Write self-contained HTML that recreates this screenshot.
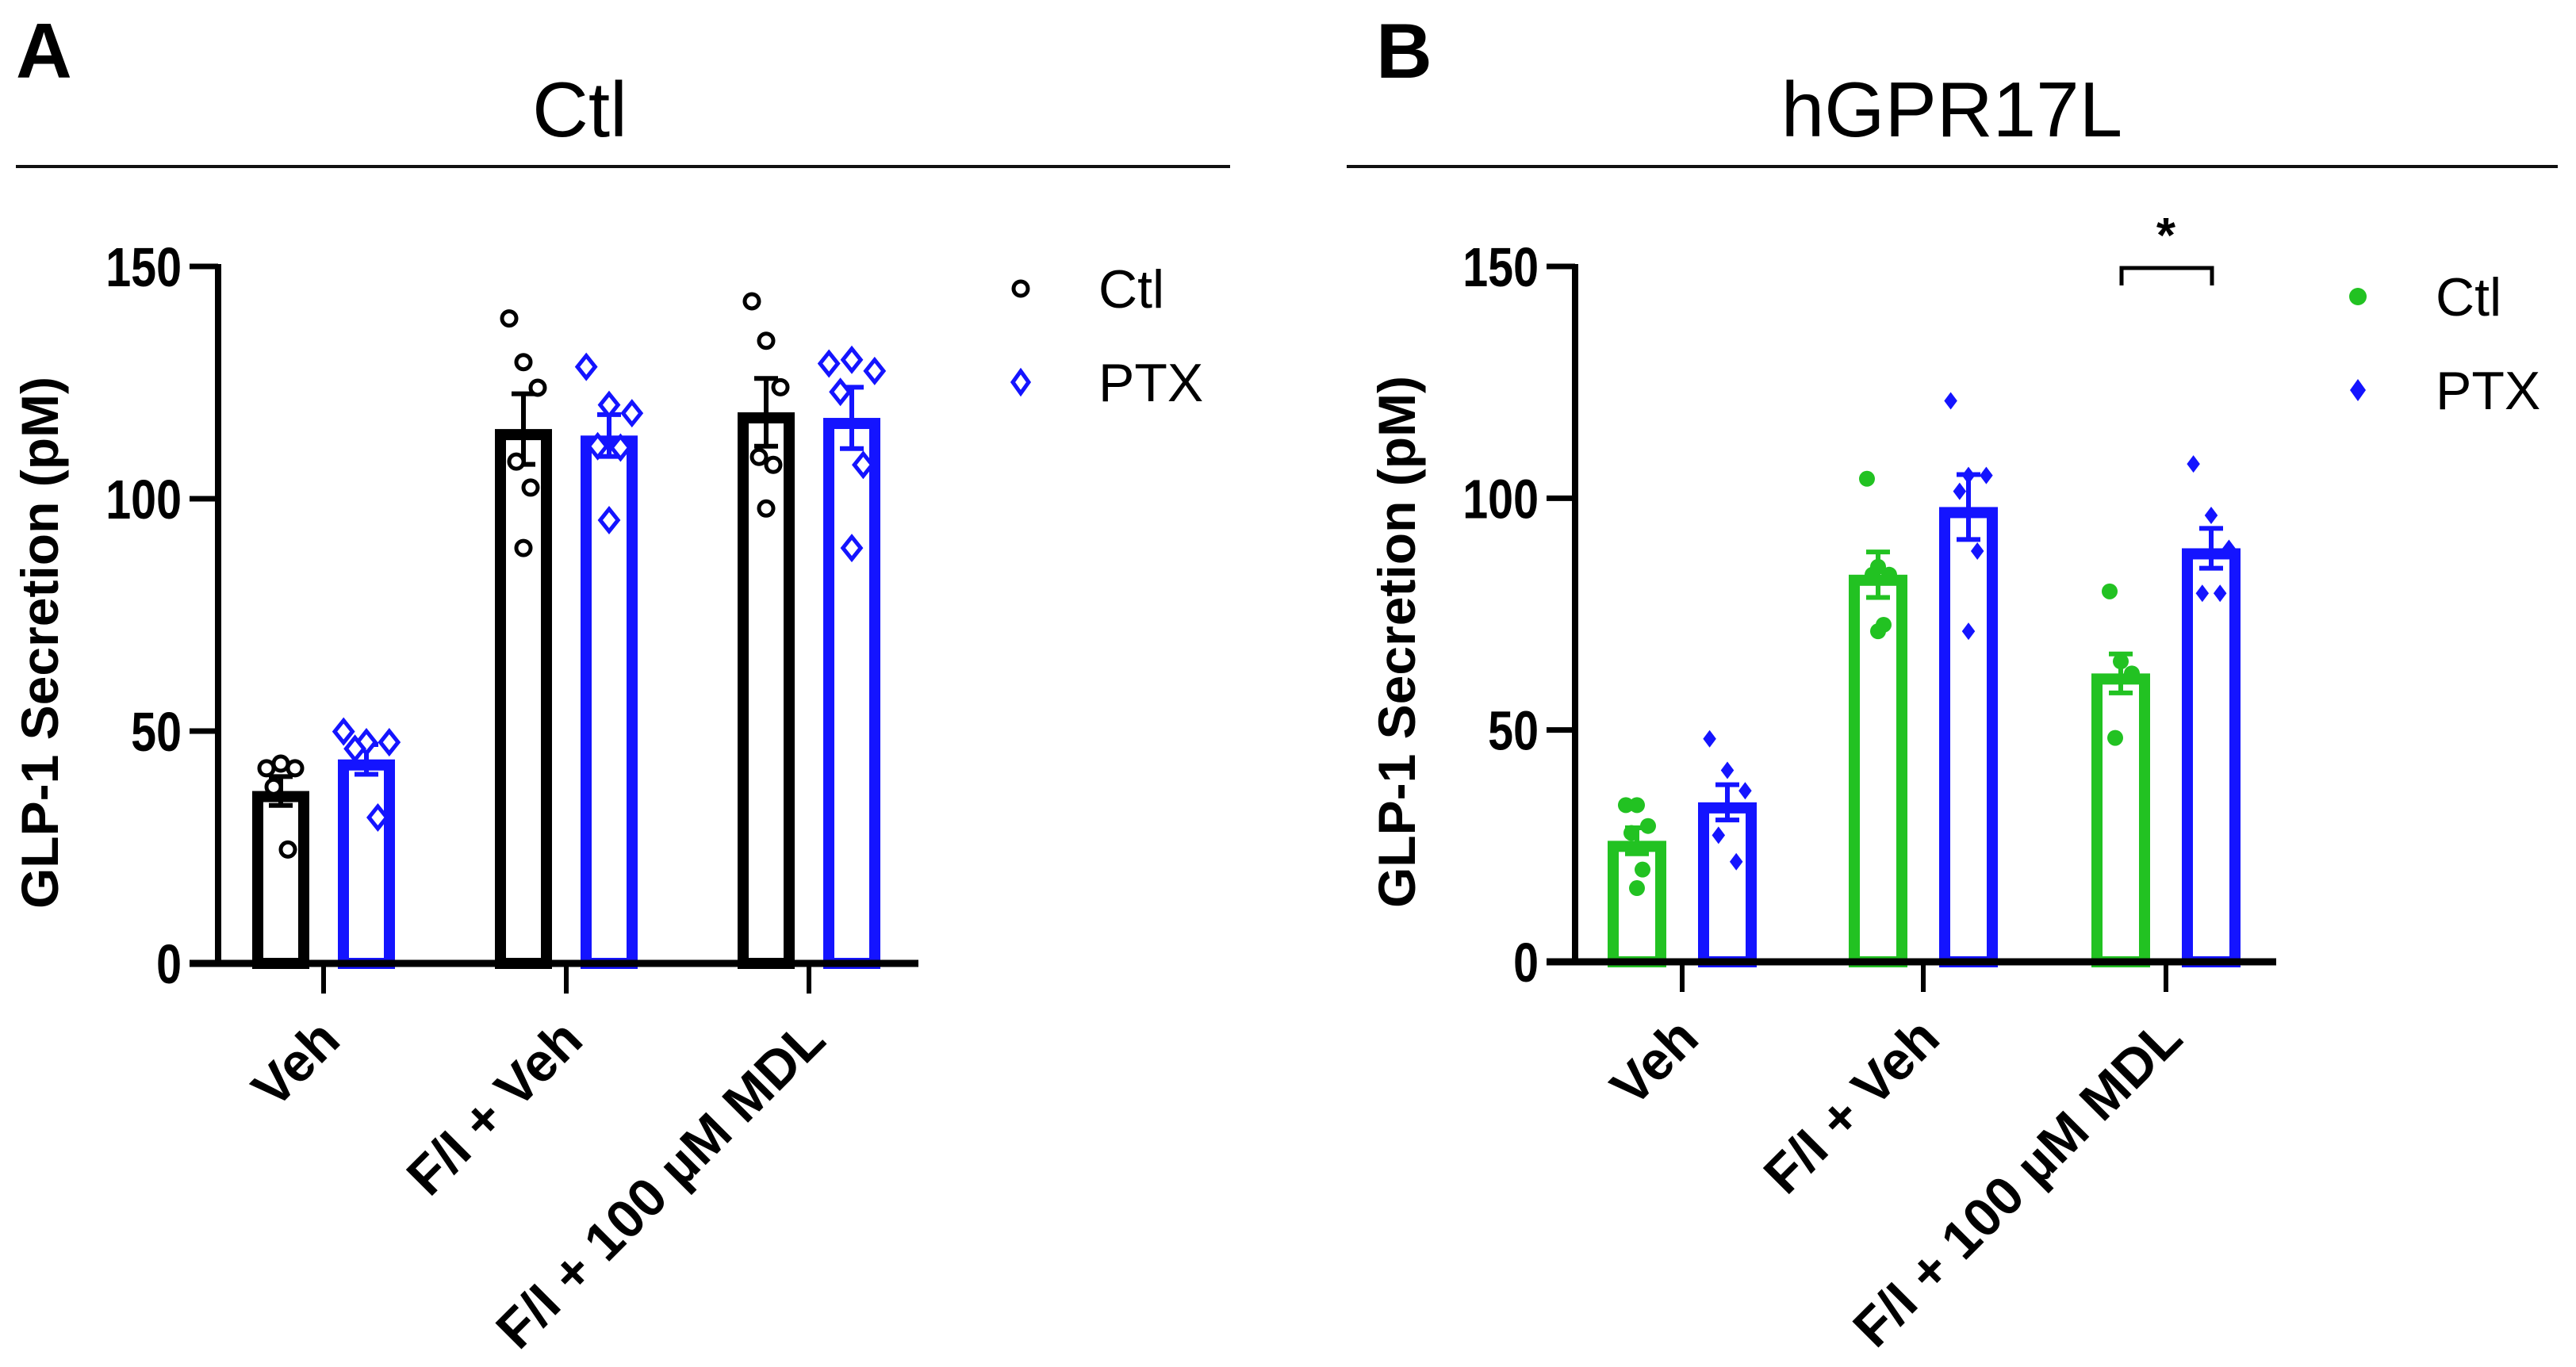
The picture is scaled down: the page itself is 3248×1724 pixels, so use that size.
<!DOCTYPE html>
<html><head><meta charset="utf-8"><style>
html,body{margin:0;padding:0;background:#fff}
svg{display:block}
text{font-family:"Liberation Sans",Arial,sans-serif}
</style></head><body>
<svg id="fig" width="3248" height="1724" viewBox="0 0 3248 1724" xmlns="http://www.w3.org/2000/svg">
<g id="A"></g>
<g id="B"></g>
</svg>
<script>
const categories = ["Veh", "F/I + Veh", "F/I + 100 \u00B5M MDL"];
const yTicks = [0, 50, 100, 150];
const seriesNames = ["Ctl", "PTX"];
// Panel A
const aCtlMean = [37.1, 115, 118.6];
const aCtlSem = [3.1, 7.6, 7.3];
const aPtxMean = [43.9, 113.6, 117.4];
const aPtxSem = [3.2, 4.5, 6.6];
const aCtlPts = [[42, 43, 42, 38, 24.5], [138.8, 129.4, 123.9, 108, 102.4, 89.4], [142.5, 134, 124, 109, 107.3, 97.9]];
const aPtxPts = [[49.9, 47.6, 47.6, 46.2, 31.4], [128.4, 120.2, 118.4, 111.3, 111, 95.4], [129.1, 129.9, 127.5, 123, 107.3, 89.4]];
// Panel B
const bCtlMean = [26.1, 83.5, 62.2];
const bCtlSem = [2.8, 4.9, 4.2];
const bPtxMean = [34.4, 98.1, 89.2];
const bPtxSem = [3.8, 7.0, 4.3];
const bCtlPts = [[33.8, 33.8, 29.3, 27.8, 19.9, 15.9], [104.2, 85.2, 83.5, 83.5, 72.7, 71.3], [79.9, 64.8, 62.2, 48.3]];
const bPtxPts = [[48.1, 41.3, 36.9, 27.3, 21.6], [121, 104.9, 104.9, 101.5, 88.6, 71.3], [107.4, 96.3, 89.2, 79.5, 79.5]];

const NS = "http://www.w3.org/2000/svg";
function mk(parent, tag, attrs, txt){
  const e = document.createElementNS(NS, tag);
  for (const k in attrs) e.setAttribute(k, attrs[k]);
  if (txt !== undefined) e.textContent = txt;
  parent.appendChild(e);
  return e;
}
const jit = [[-18,0,18,-9,9,0],[-14,0,14,-7,7,0]];

function panel(g, o){
  const y = v => o.y0 - (v/150)*(o.y0 - o.y150);
  const xc = i => o.ticks[i];
  const L = mk(g,"text",{x:o.lx,y:98,"font-size":98,"font-weight":"bold"},o.letter);
  
  
  const T = mk(g,"text",{x:o.tx,y:172,"font-size":98,"text-anchor":"middle"},o.title);
  
  
  const HL = mk(g,"line",{x1:o.hl1,x2:o.hl2,y1:210,y2:210,stroke:"#111","stroke-width":4});
  
  
  const YT = mk(g,"text",{x:0,y:0,"font-size":66,"font-weight":"bold","text-anchor":"middle",transform:`translate(${o.ax-202},${(o.y0+o.y150)/2+35}) rotate(-90)`},"GLP-1 Secretion (pM)");
  
  
  const YA = mk(g,"line",{x1:o.ax,x2:o.ax,y1:o.y150-3,y2:o.y0+4,stroke:"#000","stroke-width":8});
  
  
  yTicks.forEach(t=>{
    const tk = mk(g,"line",{x1:o.ax-36,x2:o.ax,y1:y(t),y2:y(t),stroke:"#000","stroke-width":7});
    
    
    const tl = mk(g,"text",{x:o.ax-46,y:y(t)+25,"font-size":70,"font-weight":"bold","text-anchor":"end",transform:`translate(${(o.ax-46)*0.18},0) scale(0.82,1)`},String(t));
    
    
  });
  const series = [[o.cMean,o.cSem,o.cPts,o.cCol],[o.pMean,o.pSem,o.pPts,o.pCol]];
  series.forEach((s,si)=>{
    s[0].forEach((m,i)=>{
      const cx = xc(i) + (si===0?-o.off:o.off);
      const w = o.bw, sw = o.sw;
      const b = mk(g,"rect",{x:cx-w/2+sw/2,y:y(m)+sw/2,width:w-sw,height:o.y0-y(m)-sw/2,fill:"none",stroke:s[3],"stroke-width":sw});
      
      
      const hi=y(m+s[1][i]), lo=y(m-s[1][i]);
      const eb = mk(g,"path",{d:`M${cx},${lo}V${hi}M${cx-15},${hi}H${cx+15}M${cx-15},${lo}H${cx+15}`,stroke:s[3],"stroke-width":6,fill:"none"});
      
      
      s[2][i].forEach((v,k)=>{
        const px = cx + jit[o.jset][k % 6]*(si===0?1:1.6);
        let p;
        if (si===0){
          p = o.filled ? mk(g,"circle",{cx:px,cy:y(v),r:10,fill:s[3]})
                       : mk(g,"circle",{cx:px,cy:y(v),r:9,fill:"#fff",stroke:s[3],"stroke-width":5});
        } else {
          const r = o.filled?11:14;
          p = o.filled ? mk(g,"path",{d:`M${px},${y(v)-r}L${px+r*0.75},${y(v)}L${px},${y(v)+r}L${px-r*0.75},${y(v)}Z`,fill:s[3]})
                       : mk(g,"path",{d:`M${px},${y(v)-r}L${px+r*0.8},${y(v)}L${px},${y(v)+r}L${px-r*0.8},${y(v)}Z`,fill:"#fff",stroke:s[3],"stroke-width":5});
        }
        
        
      });
    });
  });
  const XA = mk(g,"line",{x1:o.ax-36,x2:o.xend,y1:o.y0,y2:o.y0,stroke:"#000","stroke-width":9});
  
  
  categories.forEach((c,i)=>{
    const tk = mk(g,"line",{x1:xc(i),x2:xc(i),y1:o.y0,y2:o.y0+38,stroke:"#000","stroke-width":6});
    
    
    const tl = mk(g,"text",{x:0,y:0,"font-size":68,"font-weight":"bold","text-anchor":"end",transform:`translate(${xc(i)+24},${o.y0+100}) rotate(-45)`},c);
    
    
  });
  seriesNames.forEach((n,si)=>{
    const ly = o.legY + si*118;
    let m;
    if (si===0){
      m = o.filled ? mk(g,"circle",{cx:o.legX,cy:ly,r:11,fill:o.cCol})
                   : mk(g,"circle",{cx:o.legX,cy:ly,r:9,fill:"#fff",stroke:o.cCol,"stroke-width":5});
    } else {
      m = mk(g,"path",{d:`M${o.legX},${ly-14}L${o.legX+10},${ly}L${o.legX},${ly+14}L${o.legX-10},${ly}Z`,fill:o.filled?o.pCol:"#fff",stroke:o.pCol,"stroke-width":o.filled?0:5});
    }
    
    
    const t = mk(g,"text",{x:o.legX+98,y:ly+24,"font-size":68},n);
    
    
  });
}

panel(document.getElementById('A'),{letter:"A",lx:20,title:"Ctl",tx:731,hl1:20,hl2:1551,
  ax:275,y0:1215,y150:336,xend:1158,ticks:[408,714,1020],off:54,bw:72,sw:14,jset:0,filled:false,
  cMean:aCtlMean,cSem:aCtlSem,cPts:aCtlPts,pMean:aPtxMean,pSem:aPtxSem,pPts:aPtxPts,
  cCol:"#000",pCol:"#1414ff",legX:1287,legY:364});
panel(document.getElementById('B'),{letter:"B",lx:1735,title:"hGPR17L",tx:2461,hl1:1698,hl2:3225,
  ax:1986,y0:1213,y150:336,xend:2870,ticks:[2121,2425,2731],off:57,bw:74,sw:14,jset:1,filled:true,
  cMean:bCtlMean,cSem:bCtlSem,cPts:bCtlPts,pMean:bPtxMean,pSem:bPtxSem,pPts:bPtxPts,
  cCol:"#22c222",pCol:"#1414ff",legX:2973,legY:374});

const gB = document.getElementById('B');
const br = mk(gB,"path",{d:"M2675,360V338H2789V360",fill:"none",stroke:"#000","stroke-width":5});


const st = mk(gB,"text",{x:2731,y:318,"font-size":62,"font-weight":"bold","text-anchor":"middle"},"*");


</script>
</body></html>
